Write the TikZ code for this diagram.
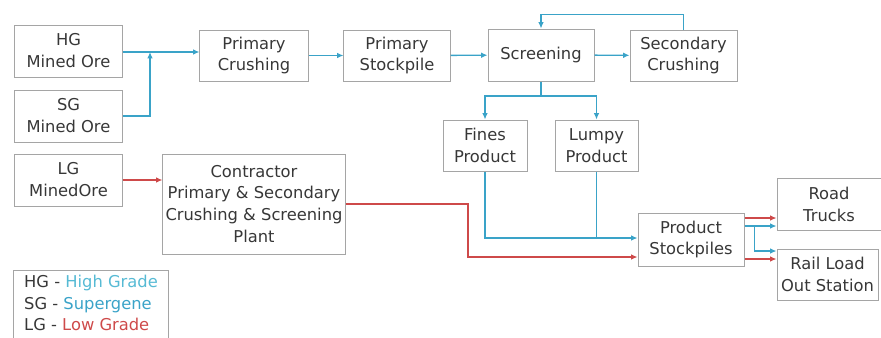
\documentclass[tikz,border=0pt]{standalone}
\usepackage{fontspec}
\setmainfont{DejaVu Sans}
\usepackage{tikz}
\usetikzlibrary{positioning}
\usetikzlibrary{arrows.meta}
\usetikzlibrary{calc}
\usepackage{xcolor}
\definecolor{flowblue}{RGB}{58,163,200}
\definecolor{flowred}{RGB}{206,74,74}
\definecolor{hgcyan}{RGB}{86,186,212}
\definecolor{boxgray}{RGB}{165,165,165}
\definecolor{textgray}{RGB}{55,55,55}

\begin{document}
\begin{tikzpicture}[x=0.025cm, y=-0.025cm,
  box/.style={draw=boxgray, line width=0.7pt, rectangle, align=center,
    inner sep=1pt, text=textgray, font=\fontsize{11.6}{15.6}\selectfont},
  blueflow/.style={draw=flowblue, line width=1pt, -{Latex[length=4.5pt,width=4pt]}},
  bluepath/.style={draw=flowblue, line width=1pt},
  redflow/.style={draw=flowred, line width=1pt, -{Latex[length=4.5pt,width=4pt]}}]
  \useasboundingbox (0,0) rectangle (881,337);
  \clip (0,0) rectangle (881,337);

  \node[box, minimum width=2.675cm, minimum height=1.3cm] (hg) at (68.5,51) {HG\\Mined Ore};
  \node[box, minimum width=2.675cm, minimum height=1.3cm] (sg) at (68.5,116) {SG\\Mined Ore};
  \node[box, minimum width=2.675cm, minimum height=1.3cm] (lg) at (68.5,180) {LG\\MinedOre};
  \node[box, minimum width=2.7cm, minimum height=1.275cm] (pcrush) at (254,55.5) {Primary\\Crushing};
  \node[box, minimum width=2.65cm, minimum height=1.275cm] (pstock) at (397,55.5) {Primary\\Stockpile};
  \node[box, minimum width=2.65cm, minimum height=1.3cm] (screen) at (541,55) {Screening};
  \node[box, minimum width=2.675cm, minimum height=1.275cm] (scrush) at (683.5,55.5) {Secondary\\Crushing};
  \node[box, minimum width=2.1cm, minimum height=1.275cm] (fines) at (485,145.5) {Fines\\Product};
  \node[box, minimum width=2.075cm, minimum height=1.275cm] (lumpy) at (596.5,145.5) {Lumpy\\Product};
  \node[box, minimum width=4.55cm, minimum height=2.5cm] (contr) at (254,204)
    {Contractor\\Primary \& Secondary\\Crushing \& Screening\\Plant};
  \node[box, minimum width=2.65cm, minimum height=1.325cm] (prodst) at (691,239.5) {Product\\Stockpiles};
  \node[box, minimum width=2.6cm, minimum height=1.3cm] (road) at (829,204) {Road\\Trucks};
  \node[box, minimum width=2.525cm, minimum height=1.275cm] (rail) at (827.5,274.5) {Rail Load\\Out Station};
  \node[box, anchor=north west, align=left, minimum width=3.875cm, inner xsep=5pt, inner ysep=3pt]
    (legend) at (13,270)
    {HG - \textcolor{hgcyan}{High Grade}\\SG - \textcolor{flowblue}{Supergene}\\LG - \textcolor{flowred}{Low Grade}\\[2pt]};

  \coordinate (join) at (150,52);
  \coordinate (split) at (541,96);
  \coordinate (redturn) at (468,204);
  \coordinate (inblue) at ($(prodst.west)+(0,-1.5)$);
  \coordinate (inred) at ($(prodst.west)+(0,17.5)$);
  \coordinate (outa) at ($(prodst.east)+(0,-21.5)$);
  \coordinate (outb) at ($(prodst.east)+(0,-13.5)$);
  \coordinate (forkb) at ($(outb)+(10,0)$);
  \coordinate (inrail) at ($(rail.west)+(0,-23.5)$);
  \coordinate (outd) at ($(prodst.east)+(0,19.5)$);

  \draw[blueflow] (hg.east |- join) -- (join -| pcrush.west);
  \draw[blueflow] (sg.east) -| (join);
  \draw[blueflow] (pcrush) -- (pstock);
  \draw[blueflow] (pstock) -- (screen);
  \draw[blueflow] (screen) -- (scrush);
  \draw[blueflow] (scrush.north) -- ++(0,-15) -| (screen.north);
  \draw[bluepath] (screen.south) -- (split);
  \draw[blueflow] (split) -| (fines.north);
  \draw[blueflow] (split) -| (lumpy.north);
  \draw[blueflow] (fines.south) |- (inblue);
  \draw[bluepath] (lumpy.south) -- (lumpy.south |- inblue);
  \draw[redflow] (lg.east) -- (lg.east -| contr.west);
  \draw[redflow] (contr.east) -- (redturn) |- (inred);
  \draw[redflow] (outa) -- (outa -| road.west);
  \draw[blueflow] (outb) -- (outb -| road.west);
  \draw[blueflow] (forkb) |- (inrail);
  \draw[redflow] (outd) -- (outd -| rail.west);
\end{tikzpicture}
\end{document}
